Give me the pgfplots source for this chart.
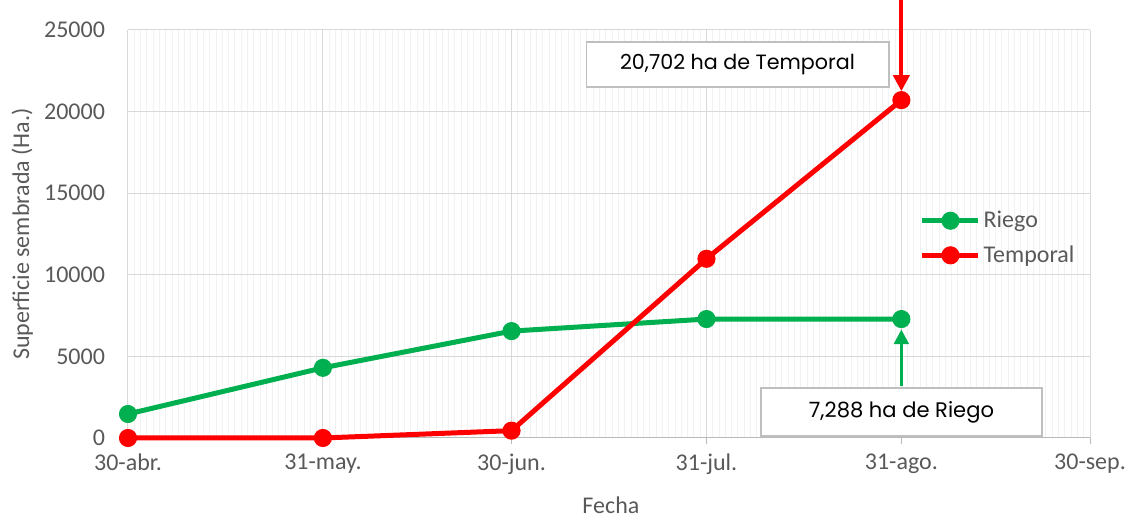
\documentclass[border=0pt]{standalone}
\usepackage{pgfplots}
\pgfplotsset{compat=1.18}
\usepackage{fontspec}
\setmainfont{Carlito}
\newfontfamily\annot{Poppins}
\usetikzlibrary{arrows.meta}
\definecolor{txtgray}{HTML}{595959}
\definecolor{riego}{HTML}{00B050}
\definecolor{temporal}{HTML}{FF0000}
\definecolor{majgrid}{HTML}{D9D9D9}
\definecolor{mingrid}{HTML}{F2F2F2}
\definecolor{boxgray}{HTML}{BFBFBF}
\begin{document}
\begin{tikzpicture}
\useasboundingbox (-96pt,-61.5pt) rectangle (753pt,328.5pt);
\begin{axis}[
  at={(0,0)}, anchor=south west,
  width=721.5pt, height=306pt, scale only axis,
  xmin=0, xmax=153, ymin=0, ymax=25000,
  clip=false,
  axis x line=bottom, axis y line=left,
  x axis line style={draw=gray!55, line width=0.75pt, -},
  y axis line style={draw=none},
  xtick={0,31,61,92,123,153},
  xticklabels={30-abr.,31-may.,30-jun.,31-jul.,31-ago.,30-sep.},
  minor xtick={1,...,152},
  ytick={0,5000,10000,15000,20000,25000},
  scaled y ticks=false,
  grid=both,
  major grid style={draw=majgrid, line width=0.75pt},
  minor grid style={draw=mingrid, line width=0.75pt},
  major tick length=4.5pt, minor tick length=0pt,
  xtick align=outside,
  xtick style={draw=gray!55, line width=0.75pt},
  ytick style={draw=none},
  tick label style={font=\fontsize{18}{20}\selectfont, text=txtgray},
  /pgf/number format/assume math mode=true,
  yticklabel style={/pgf/number format/1000 sep={}, xshift=-11.5pt},
  xticklabel style={yshift=-4pt},
  xlabel={Fecha}, ylabel={Superficie sembrada (Ha.)},
  every axis x label/.style={at={(axis description cs:0.502,-0.166)}, anchor=center, font=\fontsize{18}{20}\selectfont, text=txtgray},
  every axis y label/.style={at={(axis description cs:-0.110,0.5)}, anchor=center, rotate=90, font=\fontsize{18}{20}\selectfont, text=txtgray},
  legend style={draw=none, fill=none, at={(0.823,0.49)}, anchor=west,
    font=\fontsize{18}{20}\selectfont, text=txtgray, row sep=8pt, inner xsep=0pt},
  legend cell align=left,
  legend image code/.code={\draw[#1, mark repeat=2, mark phase=2] plot coordinates {(0pt,0pt)(21pt,0pt)(42pt,0pt)};},
]
\addplot[color=riego, line width=3.75pt, mark=*, mark size=4.9pt, mark options={solid}] coordinates {
  (0,1470) (31,4300) (61,6550) (92,7288) (123,7288)
};
\addlegendentry{Riego}
\addplot[color=temporal, line width=3.75pt, mark=*, mark size=4.9pt, mark options={solid}] coordinates {
  (0,0) (31,0) (61,450) (92,10980) (123,20702)
};
\addlegendentry{Temporal}
\draw[temporal, line width=3pt, -{Triangle[length=12pt,width=12pt]}] (axis cs:123,26838) -- (axis cs:123,21250);
\draw[riego, line width=2.4pt, -{Triangle[length=11pt,width=11pt]}] (axis cs:123,3186) -- (axis cs:123,6650);
\node[draw=boxgray, fill=white, line width=1pt, minimum width=227pt, minimum height=33.75pt, inner sep=0pt, font=\annot\fontsize{15.5}{18}\selectfont, text=black] at (axis cs:96.94,22886) {20,702 ha de Temporal};
\node[draw=boxgray, fill=white, line width=1pt, minimum width=210.75pt, minimum height=36pt, inner sep=0pt, font=\annot\fontsize{15.8}{18}\selectfont, text=black] at (axis cs:123.02,1593) {7,288 ha de Riego};
\end{axis}
\end{tikzpicture}
\end{document}
